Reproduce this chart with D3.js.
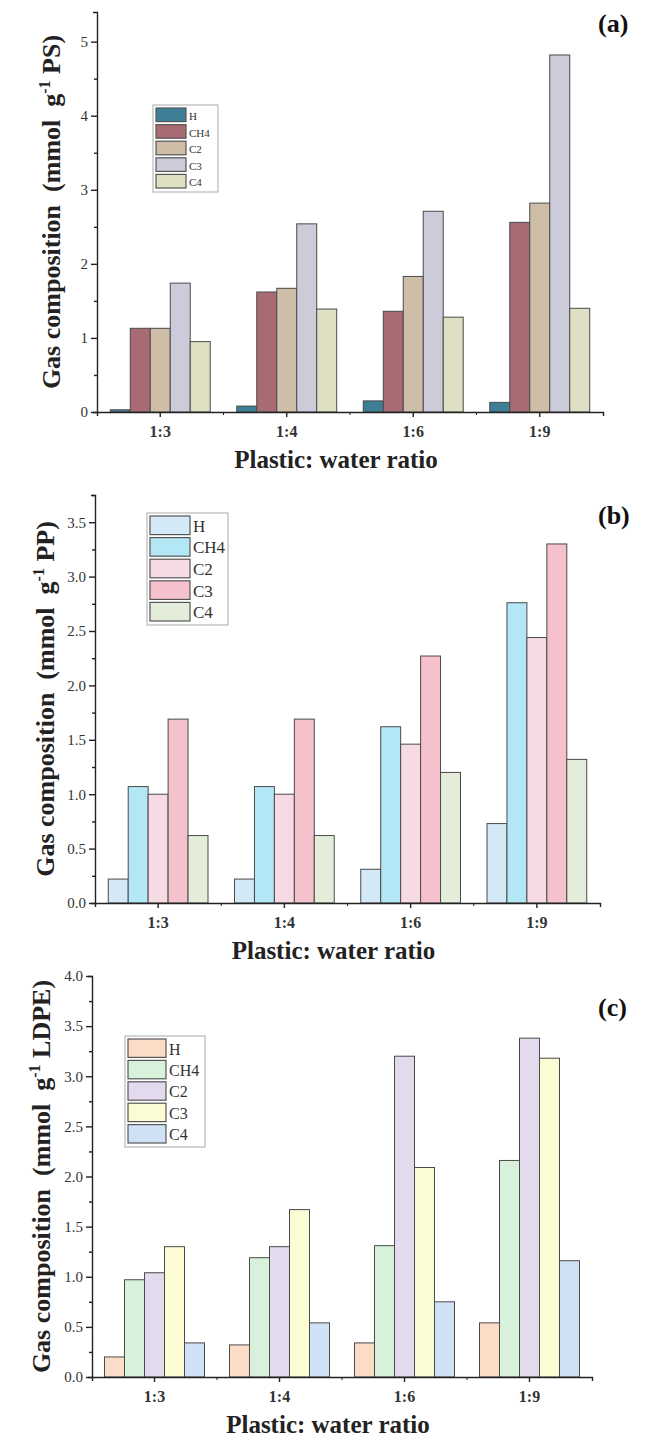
<!DOCTYPE html>
<html>
<head>
<meta charset="utf-8">
<script src="https://cdn.jsdelivr.net/npm/d3@7"></script>
<style>
  body { margin: 0; background: #fff; }
  text { font-family: "Liberation Serif", "Times New Roman", serif; }
</style>
</head>
<body>
<script>
// Categories shared by the three panels
const ratios = ["1:3", "1:4", "1:6", "1:9"];
const gases = ["H", "CH4", "C2", "C3", "C4"];

// (a) PS — one row per gas, one value per ratio
const psValues = [
  [0.03, 0.08, 0.15, 0.13],   // H
  [1.13, 1.62, 1.36, 2.56],   // CH4
  [1.13, 1.67, 1.83, 2.82],   // C2
  [1.74, 2.54, 2.71, 4.82],   // C3
  [0.95, 1.39, 1.28, 1.40]    // C4
];
// (b) PP
const ppValues = [
  [0.22, 0.22, 0.31, 0.73],
  [1.07, 1.07, 1.62, 2.76],
  [1.00, 1.00, 1.46, 2.44],
  [1.69, 1.69, 2.27, 3.30],
  [0.62, 0.62, 1.20, 1.32]
];
// (c) LDPE
const ldpeValues = [
  [0.20, 0.32, 0.34, 0.54],
  [0.97, 1.19, 1.31, 2.16],
  [1.04, 1.30, 3.20, 3.38],
  [1.30, 1.67, 2.09, 3.18],
  [0.34, 0.54, 0.75, 1.16]
];

const psColors = ["#3e7f98", "#a86b73", "#cfbea7", "#cbcbda", "#dfdfc3"];
const ppColors = ["#d3e9f7", "#b4e7f6", "#f6dbe5", "#f5c1cd", "#e3edda"];
const ldpeColors = ["#fbdcc7", "#d8f1da", "#e4daee", "#fbfbd4", "#d0e1f6"];

const serif = "'Liberation Serif', 'Times New Roman', serif";

const svg = d3.select("body").append("svg")
    .attr("width", 649)
    .attr("height", 1440);

function drawPanel(cfg) {
    const g = svg.append("g");
    const x = d3.scaleBand()
        .domain(ratios)
        .range([cfg.x0, cfg.x1])
        .paddingInner(cfg.pad)
        .paddingOuter(cfg.pad / 2);
    const xs = d3.scaleBand().domain(gases).range([0, x.bandwidth()]);
    const y = d3.scaleLinear().domain([0, cfg.yMax]).range([cfg.y0, cfg.yTop]);

    // bars
    gases.forEach((gas, gi) => {
        g.selectAll(".bar-" + gi)
            .data(cfg.values[gi])
            .enter().append("rect")
            .attr("x", (d, i) => x(ratios[i]) + xs(gas))
            .attr("y", d => y(d))
            .attr("width", xs.bandwidth())
            .attr("height", d => cfg.y0 - y(d))
            .attr("fill", cfg.colors[gi])
            .attr("stroke", "#4a4a4a")
            .attr("stroke-width", 1);
    });

    // y axis, major + minor ticks
    const major = d3.range(0, cfg.yMax + 1e-9, cfg.step);
    const minor = d3.range(cfg.step / 2, cfg.yMax + 1e-9, cfg.step);
    const yAxis = g.append("g")
        .attr("transform", `translate(${cfg.x0},0)`)
        .call(d3.axisLeft(y).tickValues(major).tickFormat(d3.format(cfg.fmt))
            .tickSize(6).tickSizeOuter(4));
    g.append("g")
        .attr("transform", `translate(${cfg.x0},0)`)
        .call(d3.axisLeft(y).tickValues(minor).tickFormat("").tickSize(3))
        .select(".domain").remove();

    // x axis, ticks at group centres and between groups
    const xAxis = g.append("g")
        .attr("transform", `translate(0,${cfg.y0})`)
        .call(d3.axisBottom(x).tickSize(5).tickSizeOuter(4).tickPadding(9));
    const slot = (cfg.x1 - cfg.x0) / ratios.length;
    g.append("g").selectAll("line")
        .data(d3.range(1, ratios.length))
        .enter().append("line")
        .attr("x1", d => cfg.x0 + d * slot)
        .attr("x2", d => cfg.x0 + d * slot)
        .attr("y1", cfg.y0)
        .attr("y2", cfg.y0 + 3)
        .attr("stroke", "#222");

    g.selectAll(".domain, .tick line").attr("stroke", "#222").attr("stroke-width", 1.4);
    yAxis.selectAll("text")
        .attr("font-family", serif)
        .attr("font-size", 15).attr("fill", "#333");
    xAxis.selectAll("text")
        .attr("font-family", serif)
        .attr("font-size", 16).attr("font-weight", "bold").attr("fill", "#333");

    // axis titles
    g.append("text")
        .attr("x", (cfg.x0 + cfg.x1) / 2 - 14)
        .attr("y", cfg.y0 + 56)
        .attr("text-anchor", "middle")
        .attr("font-size", 25)
        .attr("font-weight", "bold")
        .attr("fill", "#222")
        .text("Plastic: water ratio");

    const yt = g.append("text")
        .attr("transform", `translate(${cfg.titleX},${(cfg.y0 + cfg.yTop) / 2}) rotate(-90)`)
        .attr("text-anchor", "middle")
        .attr("font-size", 26)
        .attr("font-weight", "bold")
        .attr("fill", "#222")
        .attr("xml:space", "preserve");
    yt.append("tspan").text("Gas composition  (mmol  g");
    yt.append("tspan").attr("font-size", 16).attr("dy", -10).text("-1");
    yt.append("tspan").attr("dy", 10).text(" " + cfg.unit + ")");

    // panel letter
    g.append("text")
        .attr("x", 598)
        .attr("y", cfg.letterY)
        .attr("font-size", 26)
        .attr("font-weight", "bold")
        .attr("fill", "#111")
        .text(cfg.letter);

    // legend
    const L = cfg.legend;
    const lg = g.append("g").attr("transform", `translate(${L.x},${L.y})`);
    lg.append("rect")
        .attr("width", L.w)
        .attr("height", L.row * gases.length + 4)
        .attr("fill", "#fff")
        .attr("stroke", "#aaa");
    gases.forEach((gas, gi) => {
        lg.append("rect")
            .attr("x", 3)
            .attr("y", 2 + gi * L.row + 1)
            .attr("width", L.sw)
            .attr("height", L.row - 3)
            .attr("fill", cfg.colors[gi])
            .attr("stroke", "#555")
            .attr("stroke-width", 1.2);
        lg.append("text")
            .attr("x", L.sw + 6)
            .attr("y", 2 + gi * L.row + L.row * 0.78)
            .attr("font-size", L.fs)
            .attr("fill", "#333")
            .text(gas);
    });
}

drawPanel({
    x0: 97, x1: 603, yTop: 12, y0: 412, yMax: 5.4, step: 1, fmt: "d", pad: 0.21,
    values: psValues, colors: psColors, unit: "PS", titleX: 60,
    letter: "(a)", letterY: 32,
    legend: { x: 153, y: 105, w: 65, row: 16.6, sw: 30, fs: 11 }
});
drawPanel({
    x0: 95, x1: 600, yTop: 495, y0: 903, yMax: 3.75, step: 0.5, fmt: ".1f", pad: 0.21,
    values: ppValues, colors: ppColors, unit: "PP", titleX: 54,
    letter: "(b)", letterY: 524,
    legend: { x: 147, y: 513, w: 81, row: 21.6, sw: 40, fs: 17 }
});
drawPanel({
    x0: 92, x1: 592, yTop: 976, y0: 1377, yMax: 4.0, step: 0.5, fmt: ".1f", pad: 0.2,
    values: ldpeValues, colors: ldpeColors, unit: "LDPE", titleX: 50,
    letter: "(c)", letterY: 1016,
    legend: { x: 125, y: 1036, w: 80, row: 21.4, sw: 38, fs: 16 }
});
</script>
</body>
</html>
